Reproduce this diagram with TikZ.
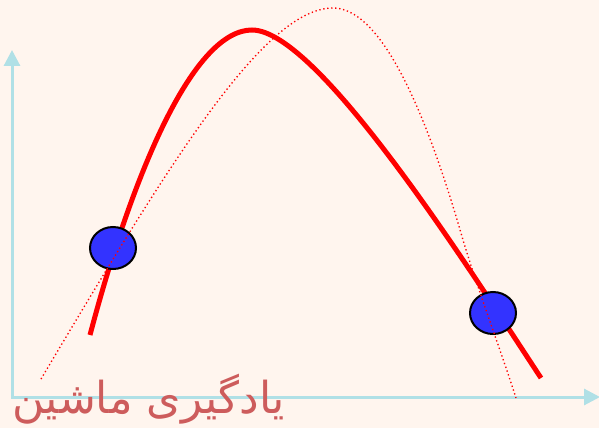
\documentclass[tikz,border=0pt]{standalone}
\usepackage{fontspec}
\newfontfamily\arabicfont[Script=Arabic]{DejaVu Sans}
\TeXXeTstate=1
\usetikzlibrary{arrows.meta,shapes.geometric}
\definecolor{bgpeach}{RGB}{255,245,238}
\definecolor{axisblue}{RGB}{176,224,230}
\definecolor{titlered}{RGB}{205,92,92}
\definecolor{dotblue}{RGB}{51,51,255}
\begin{document}
\begin{tikzpicture}[x=0.75pt,y=-0.75pt,
    axis/.style={line width=2.25pt, axisblue, line join=miter,
      {Triangle[width=12pt,length=12pt]}-{Triangle[width=12pt,length=12pt]}},
    datapt/.style={ellipse, draw=black, line width=1.5pt, fill=dotblue,
      minimum width=34.5pt, minimum height=31.5pt, inner sep=0pt}]
    % ===== 背景 =====
    \fill[bgpeach] (0,0) rectangle (599,428);
    \useasboundingbox (0,0) rectangle (599,428);

    % ===== 坐标轴 =====
    \coordinate (o) at (12,397);
    \coordinate (ytip) at (12,50);
    \coordinate (xtip) at (600,397);
    \draw[axis] (ytip) -- (o) -- (xtip);

    % 拟合曲线（粗红线）
    \draw[red, line width=3.75pt] (90,335) .. controls (135,165) and (195,30) .. (252,30)
        .. controls (318,30) and (470,270) .. (541,378);

    % 数据点
    \node[datapt] (p1) at (113,248) {};
    \node[datapt] (p2) at (493,313) {};

    % 真实曲线（点线）
    \draw[red, line width=1pt, dotted] (41,379) .. controls (166,169) and (263,8) .. (333,8)
        .. controls (376,8) and (420,90) .. (463,240)
        .. controls (480,296) and (500,348) .. (516,398);

    % 标题
    \node[titlered, anchor=base west, inner sep=0pt,
        font=\arabicfont\fontsize{33}{36}\selectfont] (title) at (12,413)
        {\beginR یادگیری ماشین\endR};
\end{tikzpicture}
\end{document}
